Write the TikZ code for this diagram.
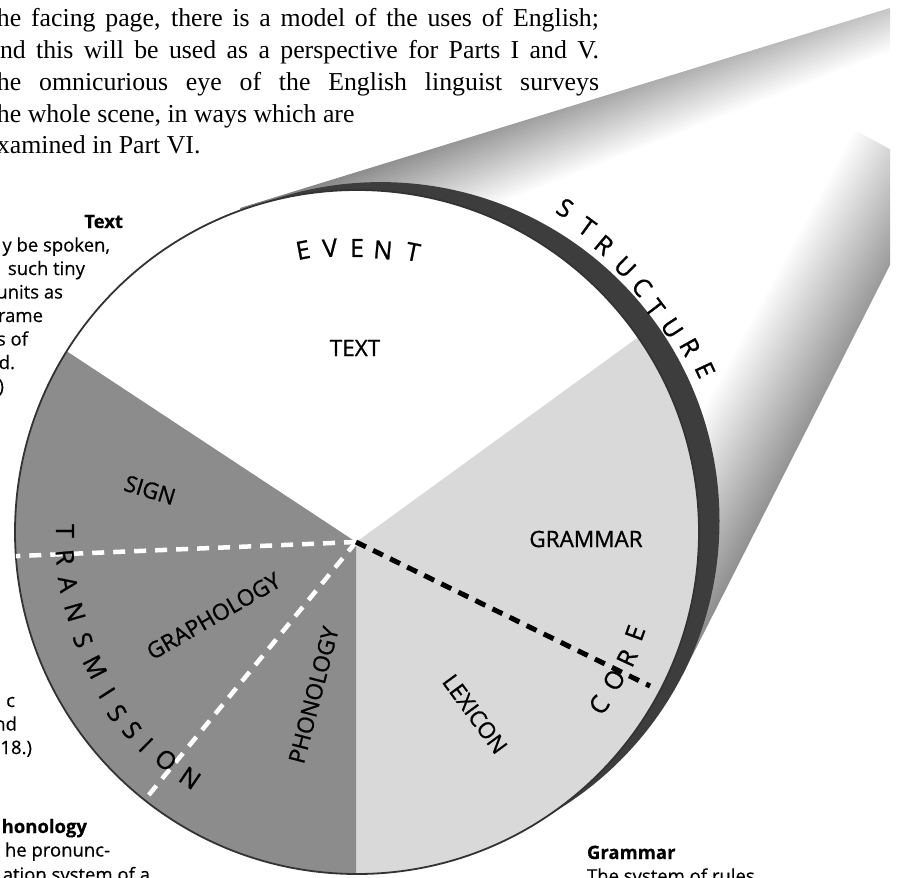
\documentclass[tikz,border=0pt]{standalone}
\usepackage{fontspec}
\setmainfont{Liberation Serif}
\newfontfamily\labfont[FakeBold=0.4]{Open Sans}
\newfontfamily\lblfont[FakeBold=1.0]{Open Sans}
\usetikzlibrary{calc}
\begin{document}
\begin{tikzpicture}[x=1pt,y=-1pt,
  every node/.style={inner sep=0pt, outer sep=0pt},
  bodytxt/.style={font=\fontsize{25.8}{31}\selectfont, anchor=base west},
  captxt/.style={font=\labfont\fontsize{18.5}{22}\selectfont, anchor=base east},
  caphead/.style={font=\labfont\bfseries\fontsize{18.5}{22}\selectfont, anchor=base east},
  ringlet/.style={font=\lblfont\fontsize{25}{30}\selectfont},
  lbl/.style={font=\lblfont\fontsize{22.5}{27}\selectfont},
  wdash/.style={draw=white, line width=4.5pt, dash pattern=on 12pt off 9pt},
  bdash/.style={draw=black, line width=5pt, dash pattern=on 11pt off 8pt},
  sectordark/.style={fill=black!45},
  sectorlight/.style={fill=black!15},
  bandfill/.style={fill=black!76},
]
\useasboundingbox (0,0) rectangle (897,878);
\clip (0,0) rectangle (897,878);
\fill[white] (0,0) rectangle (897,878);

\coordinate (cc) at (357,532);
\coordinate (oc) at (380.7,520.9);
\coordinate (apex) at (356,542);
\coordinate (t1) at (240,208);
\coordinate (k1) at (890,8);
\coordinate (k2) at (890,265);
\coordinate (t2) at (683,674);

% the viewing cone
\begin{scope}
  \clip (t1) -- (k1) -- (k2) -- (t2) -- (oc) -- cycle;
  \begin{scope}[transform canvas={shift={(683,674)}, rotate=61.5}]
    \shade[top color=white, middle color=black!20, bottom color=black!47] (-80,-110) rectangle (560,5);
    \fill[black!47] (-80,5) rectangle (560,60);
  \end{scope}
  \begin{scope}[transform canvas={shift={(240,208)}, rotate=21.3}]
    \fill[black!52] (-120,-80) rectangle (760,-4);
    \shade[top color=black!52, bottom color=white] (-120,-4) rectangle (760,90);
  \end{scope}
\end{scope}

% structure band and the pie
\fill[bandfill] (oc) circle (338.8);
\begin{scope}
  \clip (cc) circle (342);
  \fill[sectorlight] (cc) circle (350);
  \fill[white] (apex) -- ($(apex)+(-36:600)$) -- ($(apex)+(-90:600)$) -- ($(apex)+(-146.6:600)$) -- cycle;
  \fill[sectordark] (apex) -- ($(apex)+(213.4:600)$) -- ($(apex)+(180:600)$) -- ($(apex)+(135:600)$) -- ($(apex)+(90:600)$) -- cycle;
\end{scope}
\draw[line width=1.8pt, black!80] (cc) circle (342);

% dashed divisions
\coordinate (wl) at (15.9,556.1);
\coordinate (wd) at (144.6,800.1);
\coordinate (bd) at (650,686);
\draw[wdash] (apex) -- (wl);
\draw[wdash] (apex) -- (wd);
\draw[bdash] (apex) -- (bd);

% ring labels
\foreach \ch/\x/\y/\r [count=\n] in {E/303/250/10.8, V/330/248/5.4, E/357/248/0, N/383/250/-5.3, T/413/252/-11.3}
  { \node[ringlet, rotate=\r] (ev\n) at (\x,\y) {\ch}; }
\foreach \ch/\x/\y/\r [count=\n] in {S/565/208/-31.5, T/587/227/-36, R/604/245/-39.8, U/625/267/-44.6, C/642/287/-48.7, T/655/308/-52.6, U/672/328/-56.8, R/690/347/-60.8, E/705/370/-65}
  { \node[ringlet, rotate=\r] (st\n) at (\x,\y) {\ch}; }
\foreach \ch/\x/\y/\r [count=\n] in {T/65/531/-90.2, R/65/557/-85.1, A/68/584/-79.8, N/75/612/-74.2, S/83/640/-68.5, M/95/667/-62.7, I/107/693/-57.2, S/117/713/-53, S/132/730/-48.7, I/146/745/-44.7, O/166/760/-40, N/190/778/-34.2}
  { \node[ringlet, rotate=\r] (tr\n) at (\x,\y) {\ch}; }
\foreach \ch/\x/\y/\r [count=\n] in {C/599/705/54.4, O/614/680/60.1, R/627/658/65, E/635/633/70}
  { \node[ringlet, rotate=\r] (co\n) at (\x,\y) {\ch}; }

% inner labels
\node[lbl] (ltext) at (355,348) {TEXT};
\node[lbl, rotate=-17] (lsign) at (150,490) {SIGN};
\node[lbl, rotate=30] (lgraph) at (213.5,616) {GRAPHOLOGY};
\node[lbl, rotate=75.5] (lphon) at (313.5,695) {PHONOLOGY};
\node[lbl] (lgram) at (586,539) {GRAMMAR};
\node[lbl, rotate=-53.7] (llex) at (475,714) {LEXICON};

% top paragraph
\node[bodytxt] (p1) at (-3,27) {\makebox[602pt][s]{he facing page, there is a model of the uses of English;}};
\node[bodytxt] (p2) at (0,58) {\makebox[599pt][s]{nd this will be used as a perspective for Parts I and V.}};
\node[bodytxt] (p3) at (-3,90) {\makebox[602pt][s]{he omnicurious eye of the English linguist surveys}};
\node[bodytxt] (p4) at (-3,122) {he whole scene, in ways which are};
\node[bodytxt] (p5) at (-3,153) {xamined in Part VI.};

% caption: Text
\node[caphead] (c1h) at (123,228) {Text};
\node[captxt] (c1a) at (110,251.5) {y be spoken,};
\node[captxt] (c1b) at (85,275) {such tiny};
\node[captxt] (c1c) at (63,298.5) {units as};
\node[captxt] (c1d) at (43,322) {rame};
\node[captxt] (c1e) at (28,345.5) {s of};
\node[captxt] (c1f) at (15,369) {d.};
\node[captxt] (c1g) at (4,392.5) {)};

% caption fragment at left
\node[captxt] (c2a) at (15,707) {c};
\node[captxt] (c2b) at (17,730.5) {nd};
\node[captxt] (c2c) at (32,754) {18.)};

% caption: Phonology
\node[caphead] (c3h) at (87,833) {honology};
\node[captxt] (c3a) at (110,856.5) {he pronunc-};
\node[captxt] (c3b) at (150,881) {ation system of a};

% caption: Grammar
\node[caphead, anchor=base west] (c4h) at (587,859) {Grammar};
\node[captxt, anchor=base west] (c4a) at (587,882.5) {The system of rules};
\end{tikzpicture}
\end{document}
